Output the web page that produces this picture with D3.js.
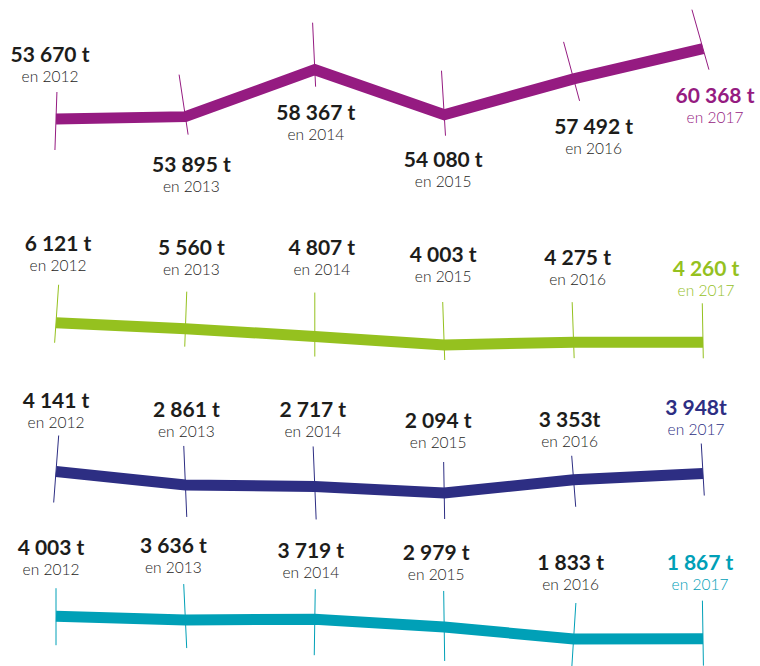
<!DOCTYPE html>
<html lang="fr">
<head>
<meta charset="UTF-8" />
<title>Tonnages 2012-2017</title>
<script src="https://cdn.jsdelivr.net/npm/d3@7"></script>
<style>
  body { margin: 0; background: #fff; }
  text { font-family: "Lato", "Open Sans", sans-serif; }
</style>
</head>
<body>
<div id="chart"></div>
<script>
// data
var years = ["2012", "2013", "2014", "2015", "2016", "2017"];
var serie1 = [53670, 53895, 58367, 54080, 57492, 60368];
var serie2 = [6121, 5560, 4807, 4003, 4275, 4260];
var serie3 = [4141, 2861, 2717, 2094, 3353, 3948];
var serie4 = [4003, 3636, 3719, 2979, 1833, 1867];
var labels1 = ["53 670 t", "53 895 t", "58 367 t", "54 080 t", "57 492 t", "60 368 t"];
var labels2 = ["6 121 t", "5 560 t", "4 807 t", "4 003 t", "4 275 t", "4 260 t"];
var labels3 = ["4 141 t", "2 861 t", "2 717 t", "2 094 t", "3 353t", "3 948t"];
var labels4 = ["4 003 t", "3 636 t", "3 719 t", "2 979 t", "1 833 t", "1 867 t"];

// layout (one entry per panel)
var width = 760, height = 666;
var colors = ["#951b81", "#95c11f", "#2d2e83", "#00a0b7"];
var baseY = [119, 345, 493, 639];   // y of the panel minimum
var pxPerTonne = 0.0105;
// label offsets from the point: [dx, dy of value baseline]
var labelPos = [
  [[-6, -56], [6, 56], [1, 51], [-1, 53], [20, 56], [12, 55]],
  [[2, -71], [6, -73], [7, -81], [-1, -82], [4, -76], [3, -65]],
  [[0, -63], [1, -67], [-2, -68], [-6, -64], [-4, -52], [-7, -58]],
  [[-5, -60], [-12, -66], [-4, -60], [-8, -66], [-3, -68], [-3, -68]]
];
// tick marks: [top, bottom, slant]
var tickPos = [
  [[-27, 31, -2], [-42, 18, 9], [-47, 17, 3], [-44, 21, 4], [-37, 22, 16], [-39, 21, 17]],
  [[-38, 20, -4], [-37, 18, -2], [-44, 20, 0], [-43, 15, 2], [-40, 16, 2], [-39, 16, 1]],
  [[-36, 31, -5], [-39, 32, 3], [-40, 33, 3], [-31, 26, 1], [-24, 27, 4], [-30, 22, 3]],
  [[-28, 29, 0], [-36, 28, 3], [-30, 36, -1], [-36, 34, 1], [-36, 27, -4], [-38, 27, 1]]
];

var series = [serie1, serie2, serie3, serie4];
var labels = [labels1, labels2, labels3, labels4];

var svg = d3.select("#chart")
            .append("svg")
            .attr("width", width)
            .attr("height", height);

var xScale = d3.scalePoint()
               .domain(years)
               .range([56, 703]);

series.forEach(function(values, p) {
  var vMin = d3.min(values);
  var yScale = d3.scaleLinear()
                 .domain([vMin, vMin + 10000])
                 .range([baseY[p], baseY[p] - 10000 * pxPerTonne]);
  var pts = values.map(function(v, i) {
    return { year: years[i], v: v, label: labels[p][i], i: i };
  });
  var g = svg.append("g");

  // thin ticks
  g.selectAll("line")
   .data(pts)
   .enter()
   .append("line")
   .attr("x1", function(d) { var t = tickPos[p][d.i]; return xScale(d.year) + t[2] * t[0] / (t[1] - t[0]); })
   .attr("x2", function(d) { var t = tickPos[p][d.i]; return xScale(d.year) + t[2] * t[1] / (t[1] - t[0]); })
   .attr("y1", function(d) { return yScale(d.v) + tickPos[p][d.i][0]; })
   .attr("y2", function(d) { return yScale(d.v) + tickPos[p][d.i][1]; })
   .attr("stroke", colors[p])
   .attr("stroke-width", 1);

  var line = d3.line()
               .x(function(d) { return xScale(d.year); })
               .y(function(d) { return yScale(d.v); });

  g.append("path")
   .datum(pts)
   .attr("d", line)
   .attr("fill", "none")
   .attr("stroke", colors[p])
   .attr("stroke-width", 11)
   .attr("stroke-linejoin", "miter");

  // value + year in one text block
  var lab = g.selectAll("text")
             .data(pts)
             .enter()
             .append("text")
             .attr("text-anchor", "middle")
             .attr("fill", function(d) { return d.i == years.length - 1 ? colors[p] : "#1d1d1b"; })
             .attr("transform", function(d) {
               var o = labelPos[p][d.i];
               return "translate(" + (xScale(d.year) + o[0]) + "," + (yScale(d.v) + o[1] - 1) + ")";
             });
  lab.append("tspan")
     .attr("x", 0)
     .attr("font-size", "21px")
     .attr("font-weight", "bold")
     .text(function(d) { return d.label; });
  lab.append("tspan")
     .attr("x", 0)
     .attr("dy", 20)
     .attr("font-size", "15.5px")
     .attr("font-weight", 300)
     .text(function(d) { return "en " + d.year; });
});
</script>
</body>
</html>
